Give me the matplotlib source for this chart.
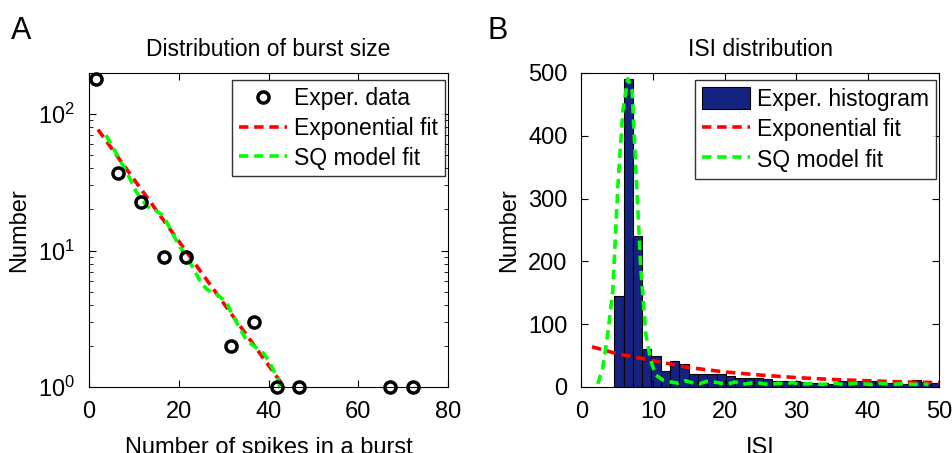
import numpy as np
import matplotlib
matplotlib.use("Agg")
import matplotlib.pyplot as plt
from matplotlib.ticker import LogLocator, NullFormatter

plt.rcParams['font.family'] = ['Liberation Sans', 'DejaVu Sans']
plt.rcParams['mathtext.fontset'] = 'custom'
plt.rcParams['mathtext.rm'] = 'Liberation Sans'

# ---- panel A: burst size distribution
burst_x = [1.6, 6.5, 11.5, 16.6, 21.6, 31.7, 36.7, 41.8, 46.8, 67.0, 72.1]
burst_n = [182, 37, 22.5, 9, 9, 2, 3, 1, 1, 1, 1]

expfit_x = [2, 43.5]
expfit_y = [77, 1]

sqfit_x = [3.8, 6.0, 8.5, 10.5, 11.4, 13.0, 15.0, 16.6, 18.5, 20.3, 22.5,
           25.1, 26.6, 28.4, 30.6, 32.2, 35.1, 38.9, 40.0, 42.2, 42.5]
sqfit_y = [70, 52, 37, 27, 24.5, 21, 19.5, 18, 13.5, 10.6, 8.2,
           5.7, 5.1, 4.8, 4.2, 3.26, 2.2, 1.76, 1.57, 1.12, 1.0]

# ---- panel B: ISI histogram
isi_centers = [5.25, 6.55, 7.85, 9.15, 10.45, 11.75, 13.05, 14.35, 15.65, 16.95,
               18.25, 19.55, 20.85, 22.15, 23.45, 24.75, 26.05, 27.35, 28.65, 29.95,
               31.25, 32.55, 33.85, 35.15, 36.45, 37.75, 39.05, 40.35, 41.65, 42.95,
               44.25, 45.55, 46.85, 48.15, 49.45]
isi_counts = [145, 491, 240, 61, 50, 25, 42, 37, 21, 21,
              21, 20, 18, 15, 14, 14, 12, 10, 9, 9,
              8, 7, 6, 5, 9, 8, 10, 10, 9, 6,
              4, 5, 11, 8, 7]
isi_width = 1.3

isi_exp_x = [1.5, 5, 10, 15, 20, 25, 30, 35, 40, 45, 50]
isi_exp_y = [64, 53, 42, 31, 24, 19, 15, 12, 10, 8, 7]

isi_sq_x = [2.3, 3.0, 3.7, 4.4, 5.1, 5.8, 6.5, 7.1, 7.6, 8.3, 9.0, 9.7, 10.4, 11.4,
            12.5, 13.5, 14.5, 15.5, 16.5, 17.5, 18.5, 19.5, 20.5, 21.5, 22.5, 23.5,
            24.5, 25.5, 26.5, 27.5, 28.5, 29.5, 30.5, 31.5, 32.5, 33.5, 34.5, 35.5,
            36.5, 37.5, 38.5, 39.5, 40.5, 41.5, 42.5, 43.5, 44.5, 45.5, 46.5, 47.5, 48.5]
isi_sq_y = [5, 30, 85, 154, 318, 440, 491, 472, 350, 191, 85, 42, 19, 11,
            8, 6, 10, 7, 5, 9, 8, 6, 5, 8, 4, 6, 7, 5, 4, 6, 5, 7, 4, 5, 6, 4,
            5, 6, 4, 5, 6, 5, 4, 6, 5, 4, 5, 5, 4, 5, 4]

fig = plt.figure(figsize=(9.52, 4.53), dpi=100)
axA = fig.add_axes([0.0935, 0.1457, 0.3771, 0.6932])
axB = fig.add_axes([0.6106, 0.1457, 0.3761, 0.6932])

fs = 17
lfs = 16.5
dash = (2.6, 1.6)
lw = 2.6

axA.plot(burst_x, burst_n, 'o', mfc='none', mec='black', mew=2.5, ms=8,
         label='Exper. data', zorder=3, clip_on=False)
axA.plot(expfit_x, expfit_y, '--', color='#ff0000', lw=lw, dashes=dash,
         label='Exponential fit')
axA.plot(sqfit_x, sqfit_y, '--', color='#00ff00', lw=lw, dashes=dash,
         label='SQ model fit')
axA.set_yscale('log')
axA.set_xlim(0, 80)
axA.set_ylim(1, 200)
axA.set_xticks([0, 20, 40, 60, 80])
axA.yaxis.set_major_locator(LogLocator(base=10, numticks=10))
axA.yaxis.set_minor_locator(LogLocator(base=10, subs=np.arange(2, 10), numticks=10))
axA.yaxis.set_minor_formatter(NullFormatter())
axA.set_title('Distribution of burst size', fontsize=16.5, pad=12)
axA.set_xlabel('Number of spikes in a burst', fontsize=fs, labelpad=10)
axA.set_ylabel('Number', fontsize=fs, labelpad=6)
legA = axA.legend(loc='upper left', bbox_to_anchor=(0.398, 0.978), fontsize=lfs,
                  frameon=True, fancybox=False, edgecolor='black', handlelength=2.1,
                  handletextpad=0.3, labelspacing=0.3, borderpad=0.3,
                  borderaxespad=0)
legA.get_frame().set_linewidth(1.0)

bars = axB.bar(isi_centers, isi_counts, width=isi_width, color='#13237f',
               edgecolor='black', linewidth=0.8, label='Exper. histogram')
l1, = axB.plot(isi_exp_x, isi_exp_y, '--', color='#ff0000', lw=lw, dashes=dash,
               label='Exponential fit')
l2, = axB.plot(isi_sq_x, isi_sq_y, '--', color='#00ff00', lw=lw, dashes=dash,
               label='SQ model fit')
axB.set_xlim(0, 50)
axB.set_ylim(0, 500)
axB.set_xticks([0, 10, 20, 30, 40, 50])
axB.set_yticks([0, 100, 200, 300, 400, 500])
axB.set_title('ISI distribution', fontsize=16.5, pad=12)
axB.set_xlabel('ISI', fontsize=fs, labelpad=10)
axB.set_ylabel('Number', fontsize=fs, labelpad=6)
legB = axB.legend([bars, l1, l2], ['Exper. histogram', 'Exponential fit', 'SQ model fit'],
                  loc='upper left', bbox_to_anchor=(0.318, 0.978), fontsize=lfs,
                  frameon=True, fancybox=False, edgecolor='black', handlelength=2.1,
                  handleheight=1.1, handletextpad=0.3, labelspacing=0.3,
                  borderpad=0.3, borderaxespad=0)
legB.get_frame().set_linewidth(1.0)

for ax in (axA, axB):
    ax.tick_params(which='both', direction='in', top=True, right=True,
                   labelsize=fs, pad=10)
    ax.tick_params(which='major', length=5)
    ax.tick_params(which='minor', length=3)
    for s in ax.spines.values():
        s.set_linewidth(0.8)

fig.text(0.012, 0.965, 'A', fontsize=22, va='top', ha='left')
fig.text(0.512, 0.965, 'B', fontsize=22, va='top', ha='left')

fig.savefig('out.png', dpi=100)
plt.close(fig)
